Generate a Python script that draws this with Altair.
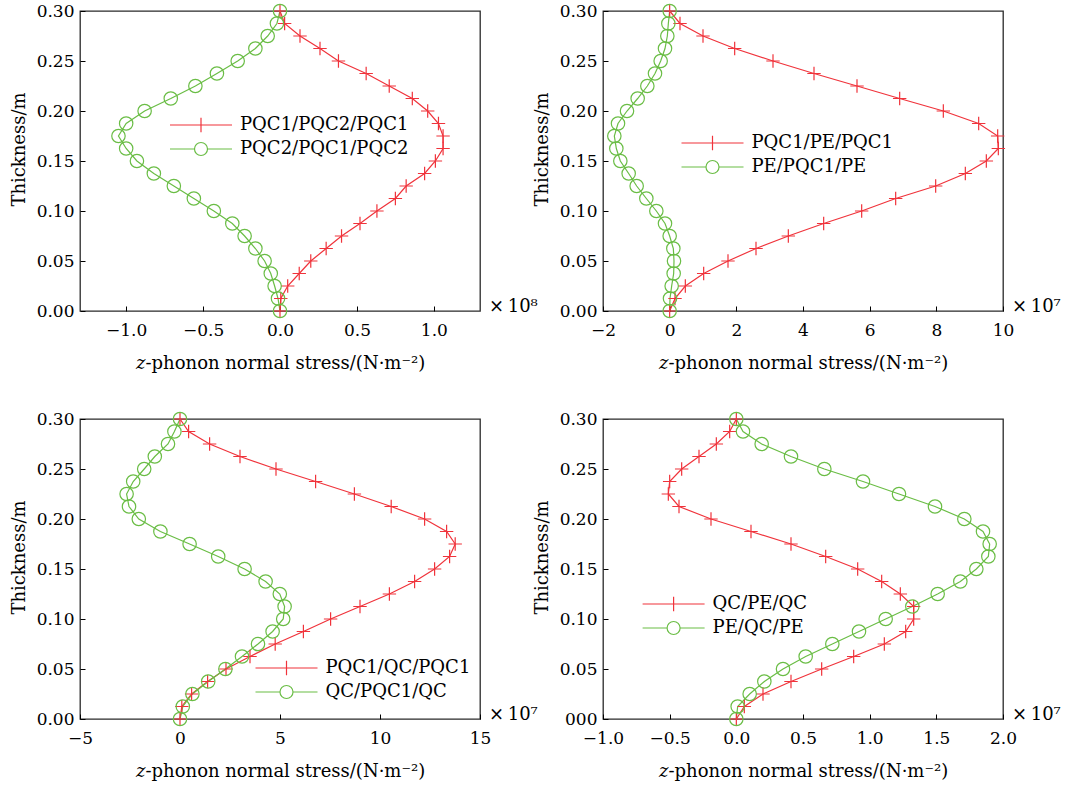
import altair as alt
import pandas as pd

# ---------------- data ----------------
thickness = [0.3000, 0.2875, 0.2750, 0.2625, 0.2500, 0.2375, 0.2250, 0.2125,
             0.2000, 0.1875, 0.1750, 0.1625, 0.1500, 0.1375, 0.1250, 0.1125,
             0.1000, 0.0875, 0.0750, 0.0625, 0.0500, 0.0375, 0.0250, 0.0125, 0.0000]

p1_names = ["PQC1/PQC2/PQC1", "PQC2/PQC1/PQC2"]
p1_red = [0.0, 0.03, 0.13, 0.26, 0.38, 0.56, 0.71, 0.86, 0.96, 1.03, 1.06, 1.06, 1.01,
          0.94, 0.82, 0.75, 0.63, 0.52, 0.40, 0.30, 0.20, 0.125, 0.05, 0.005, 0.0]
p1_green = [0.0, -0.02, -0.08, -0.16, -0.275, -0.41, -0.55, -0.71, -0.88, -1.0, -1.05, -1.0,
            -0.93, -0.82, -0.69, -0.56, -0.43, -0.31, -0.23, -0.16, -0.10, -0.06, -0.035, -0.013, 0.0]

p2_names = ["PQC1/PE/PQC1", "PE/PQC1/PE"]
p2_red = [0.0, 0.31, 1.0, 1.95, 3.1, 4.33, 5.62, 6.9, 8.21, 9.27, 9.84, 9.86, 9.5,
          8.87, 7.98, 6.78, 5.76, 4.62, 3.56, 2.59, 1.75, 1.02, 0.47, 0.16, 0.0]
p2_green = [0.0, -0.04, -0.07, -0.14, -0.27, -0.44, -0.67, -0.96, -1.28, -1.55, -1.66, -1.6,
            -1.48, -1.23, -0.99, -0.70, -0.40, -0.14, 0.0, 0.11, 0.13, 0.12, 0.06, 0.01, 0.0]

p3_names = ["PQC1/QC/PQC1", "QC/PQC1/QC"]
p3_red = [0.0, 0.43, 1.48, 3.0, 4.8, 6.78, 8.72, 10.56, 12.23, 13.33, 13.76, 13.48, 12.73,
          11.73, 10.47, 9.0, 7.53, 6.17, 4.76, 3.5, 2.3, 1.38, 0.58, 0.09, 0.0]
p3_green = [0.0, -0.28, -0.6, -1.26, -1.79, -2.34, -2.67, -2.55, -2.06, -0.98, 0.48, 1.91, 3.23,
            4.28, 4.99, 5.23, 5.16, 4.63, 3.9, 3.1, 2.27, 1.41, 0.62, 0.14, 0.0]

p4_names = ["QC/PE/QC", "PE/QC/PE"]
p4_red = [0.0, -0.05, -0.15, -0.28, -0.41, -0.5, -0.51, -0.43, -0.19, 0.11, 0.41, 0.67, 0.91,
          1.09, 1.23, 1.33, 1.33, 1.27, 1.11, 0.88, 0.64, 0.41, 0.2, 0.06, 0.0]
p4_green = [0.0, 0.05, 0.19, 0.41, 0.66, 0.95, 1.22, 1.49, 1.71, 1.85, 1.9, 1.89, 1.8,
            1.68, 1.51, 1.32, 1.12, 0.92, 0.72, 0.52, 0.35, 0.21, 0.1, 0.01, 0.0]

y_ticks = [0.0, 0.05, 0.10, 0.15, 0.20, 0.25, 0.30]
p1_xticks = [-1.0, -0.5, 0.0, 0.5, 1.0]
p2_xticks = [-2, 0, 2, 4, 6, 8, 10]
p3_xticks = [-5, 0, 5, 10, 15]
p4_xticks = [-1.0, -0.5, 0.0, 0.5, 1.0, 1.5, 2.0]

y_title = "Thickness/m"
x_title_z = "z"
x_title_rest = "-phonon normal stress/(N\u00b7m\u207b\u00b2)"

# ---------------- style ----------------
RED = "#f0333b"
GREEN = "#6abd45"
FONT = "DejaVu Serif"
FRAME = "#2a2a2a"
W, H = 400, 300

PLUS = "M-1,0H1M0,-1V1"
LEG_PLUS = "M-1,0H1M0,-0.23V0.23"
R = 0.21
LEG_CIRC = (f"M-1,0H-{R}M{R},0H1M{R},0A{R},{R} 0 1,1 -{R},0"
            f"A{R},{R} 0 1,1 {R},0")


def panel(red_vals, green_vals, names, xdom, xticks, xfmt, exp_label, leg_x, leg_y,
          zero_label="0.00"):
    rows = []
    for i, t in enumerate(thickness):
        rows.append({"t": t, "v": red_vals[i], "s": names[0], "i": i})
    for i, t in enumerate(thickness):
        rows.append({"t": t, "v": green_vals[i], "s": names[1], "i": i})
    df = pd.DataFrame(rows)
    base = alt.Chart(df)

    X = alt.X("v:Q", scale=alt.Scale(domain=xdom, nice=False, zero=False),
              axis=alt.Axis(values=xticks, format=xfmt, title=None, grid=False,
                            domain=False, offset=-5, tickSize=5, tickColor="black",
                            tickWidth=1, labelFont=FONT, labelFontSize=17,
                            labelColor="black", labelPadding=11, labelFlush=False,
                            labelOverlap=False))
    Y = alt.Y("t:Q", scale=alt.Scale(domain=[0, 0.3], nice=False, zero=False),
              axis=alt.Axis(values=y_ticks, title=y_title, grid=False, domain=False,
                            labelExpr=f"datum.value == 0 ? '{zero_label}' : format(datum.value, '.2f')",
                            offset=-5, tickSize=5, tickColor="black", tickWidth=1,
                            labelFont=FONT, labelFontSize=17, labelColor="black",
                            labelPadding=6, labelFlush=False, labelOverlap=False,
                            titleFont=FONT, titleFontSize=18, titleFontWeight="normal",
                            titleColor="black", titlePadding=8, titleY=138))

    color = alt.Color("s:N", scale=alt.Scale(domain=names, range=[RED, GREEN]), legend=None)

    line = base.mark_line(strokeWidth=1.2).encode(x=X, y=Y, color=color, order="i:Q")
    pts = base.mark_point(filled=False, strokeWidth=1.2, size=180, opacity=1).encode(
        x=X, y=Y, color=color,
        shape=alt.Shape("s:N", scale=alt.Scale(domain=names, range=[PLUS, "circle"]),
                        legend=None))

    leg = alt.Legend(orient="none", legendX=leg_x, legendY=leg_y, title=None, padding=0,
                     symbolSize=3844, symbolStrokeWidth=1.2, symbolOpacity=1,
                     symbolFillColor="transparent",
                     labelFont=FONT, labelFontSize=18, labelColor="black", labelOffset=7,
                     labelLimit=0, clipHeight=22, rowPadding=2)
    legl = base.transform_filter("datum.i < 0").mark_point(filled=False, strokeWidth=1.2).encode(
        x=X, y=Y,
        color=alt.Color("s:N", scale=alt.Scale(domain=names, range=[RED, GREEN]), legend=leg),
        shape=alt.Shape("s:N", scale=alt.Scale(domain=names, range=[LEG_PLUS, LEG_CIRC]),
                        legend=leg))

    txt = alt.Chart(pd.DataFrame({"txt": [exp_label]}))
    exp = txt.mark_text(font=FONT, fontSize=18, align="left", baseline="alphabetic",
                        color="black").encode(x=alt.value(W + 9), y=alt.value(H + 1),
                                              text="txt:N")
    zt = alt.Chart(pd.DataFrame({"txt": [x_title_z]})).mark_text(
        font=FONT, fontSize=18, fontStyle="italic", align="left", baseline="alphabetic",
        color="black").encode(x=alt.value(56), y=alt.value(H + 58), text="txt:N")
    rt = alt.Chart(pd.DataFrame({"txt": [x_title_rest]})).mark_text(
        font=FONT, fontSize=18, align="left", baseline="alphabetic",
        color="black").encode(x=alt.value(65.5), y=alt.value(H + 58), text="txt:N")

    return alt.layer(line, pts, legl, exp, zt, rt).resolve_scale(
        color="independent", shape="independent").properties(
        width=W, height=H,
        view=alt.ViewBackground(stroke=FRAME, strokeWidth=1.3))


c1 = panel(p1_red, p1_green, p1_names, [-1.3, 1.3], p1_xticks, ".1f", "\u00d7\u200910\u2078", 89, 103)
c2 = panel(p2_red, p2_green, p2_names, [-2, 10], p2_xticks, "d", "\u00d7\u200910\u2077", 77.5, 121)
c3 = panel(p3_red, p3_green, p3_names, [-5, 15], p3_xticks, "d", "\u00d7\u200910\u2077", 174.5, 238)
c4 = panel(p4_red, p4_green, p4_names, [-1.0, 2.0], p4_xticks, ".1f", "\u00d7\u200910\u2077", 38.6, 174,
           zero_label="000")

chart = alt.concat(c1, c2, c3, c4, columns=2, spacing={"row": 108, "column": 123},
                   bounds="flush").properties(
    padding={"left": 9, "top": 1, "right": 2, "bottom": 2}
).configure_view(stroke=FRAME, strokeWidth=1.3).configure(background="white")

chart.save("out.html", embed_options={"renderer": "svg", "actions": False})
